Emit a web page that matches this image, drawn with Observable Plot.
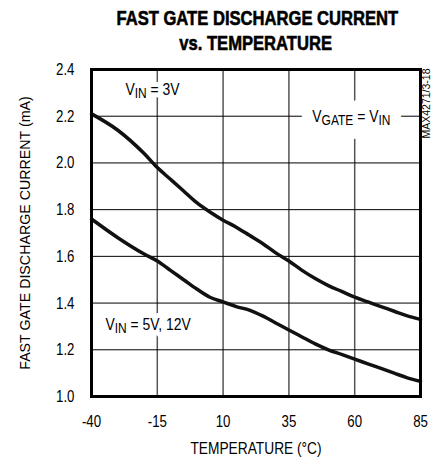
<!DOCTYPE html>
<html><head><meta charset="utf-8">
<script src="https://cdn.jsdelivr.net/npm/d3@7"></script>
<script src="https://cdn.jsdelivr.net/npm/@observablehq/plot@0.6"></script>
<style>
body{margin:0;background:#fff;}
#title{width:432px;box-sizing:border-box;padding-left:79px;height:55px;padding-top:5px;text-align:center;font-family:"Liberation Sans",Arial,sans-serif;font-weight:bold;font-size:21px;line-height:25px;color:#000;white-space:nowrap;}
#title span{display:inline-block;transform:scaleX(0.79);transform-origin:50% 50%;-webkit-text-stroke:0.6px #000;}
</style></head><body>
<div id="title"><span>FAST GATE DISCHARGE CURRENT</span><br><span>vs. TEMPERATURE</span></div>
<div id="chart"></div>
<script>
const temps    = [-40,-30,-20,-15,-10,-5,0,5,10,15,20,25,30,35,40,45,50,55,60,65,70,75,80,85];
const vin3V    = [2.21,2.14,2.04,1.98,1.93,1.88,1.83,1.79,1.755,1.725,1.69,1.655,1.615,1.58,1.54,1.505,1.475,1.45,1.425,1.405,1.385,1.365,1.345,1.33];
const vin5V12V = [1.76,1.68,1.61,1.58,1.54,1.50,1.46,1.425,1.405,1.385,1.37,1.345,1.315,1.285,1.255,1.225,1.20,1.18,1.16,1.14,1.12,1.10,1.08,1.065];
const xTicks = [-40,-15,10,35,60,85];
const yTicks = [1.0,1.2,1.4,1.6,1.8,2.0,2.2,2.4];
const labelTexts = ["V{IN} = 3V","V{IN} = 5V, 12V","V{GATE} = V{IN}"];
const labelX = [-27.1,-34.7,43.9];
const labelY = [2.316,1.309,2.2];
const xLabel = "TEMPERATURE (°C)";
const yLabel = "FAST GATE DISCHARGE CURRENT (mA)";
const note = "MAX4271/3-18";

const series = [
  ...temps.map((t,i)=>({t, v: vin3V[i], s:"3V"})),
  ...temps.map((t,i)=>({t, v: vin5V12V[i], s:"5V12V"}))
];
const labels = labelTexts.map((text,i)=>({text, x: labelX[i], y: labelY[i], i}));
const FONT = '"Liberation Sans",Arial,sans-serif';
const labelOpts = {x:"x", y:"y", text:"text", textAnchor:"start", fontSize: 17};

const plot = Plot.plot({
  width: 432, height: 403,
  marginLeft: 91, marginRight: 12, marginTop: 14, marginBottom: 62,
  style: {fontFamily: FONT, fontSize: "16px", color: "#000", background: "#fff"},
  x: {domain: [-40, 85]},
  y: {domain: [1.0, 2.4]},
  marks: [
    Plot.gridX(xTicks, {stroke: "#555", strokeOpacity: 1, strokeWidth: 1.5}),
    Plot.gridY(yTicks, {stroke: "#000", strokeOpacity: 1, strokeWidth: 1}),
    // white halos behind the annotations (break the grid lines like the reference)
    Plot.text(labels.filter(d=>d.i<2), {...labelOpts, fill:"#fff", stroke:"#fff", strokeWidth: 10}),
    Plot.text(labels.filter(d=>d.i===2), {...labelOpts, fill:"#fff", stroke:"#fff", strokeWidth: 28}),
    Plot.text(labels, {...labelOpts, fill:"#000"}),
    Plot.line(series, {x:"t", y:"v", z:"s", stroke:"#111", strokeWidth: 3.5, curve:"monotone-x"}),
    Plot.frame({stroke:"#000", strokeWidth: 3}),
    Plot.axisX({ticks: xTicks, tickSize: 0, tickPadding: 18, tickFormat: d => String(d), label: null, fontSize: 17}),
    Plot.axisY({ticks: yTicks, tickSize: 0, tickPadding: 17, tickFormat: ".1f", label: null, fontSize: 17}),
    Plot.text([xLabel], {frameAnchor:"bottom", textAnchor:"middle", lineAnchor:"middle", dy: 52, fontSize: 16}),
    Plot.text([yLabel], {frameAnchor:"left", textAnchor:"middle", lineAnchor:"middle", rotate: -90, dx: -66, fontSize: 15}),
    Plot.text([note], {frameAnchor:"top-right", rotate: -90, textAnchor:"end", lineAnchor:"middle", dx: 6, dy: -1, fontSize: 10.5})
  ]
});
document.getElementById("chart").appendChild(plot);

const svg = d3.select(plot.tagName.toLowerCase() === "svg" ? plot : plot.querySelector("svg"));

// subscripts in annotations
svg.selectAll("text").filter(function(){ return this.textContent.includes("{"); }).each(function(){
  const el = d3.select(this);
  const s = el.text();
  el.text(null);
  const parts = s.split(/(\{[^}]*\})/).filter(p=>p.length);
  let sub = false;
  parts.forEach(p=>{
    if (p.startsWith("{")) {
      el.append("tspan").attr("dy", 3).attr("font-size", "86%").text(p.slice(1,-1));
      sub = true;
    } else {
      const t = el.append("tspan").text(p);
      if (sub) t.attr("dy", -3);
      sub = false;
    }
  });
});

// condensed look (the reference uses a condensed face)
function condense(el, f){
  let tr = el.getAttribute("transform");
  if (!tr) {
    const x = el.getAttribute("x") || 0, y = el.getAttribute("y") || 0;
    el.removeAttribute("x"); el.removeAttribute("y");
    tr = `translate(${x},${y})`;
  }
  el.setAttribute("transform", tr + ` scale(${f},1)`);
}
svg.selectAll("text").each(function(){
  const s = this.textContent;
  let f;
  if (s === yLabel) f = 0.95;
  else if (s === xLabel) f = 0.86;
  else if (s === note) f = 1.0;
  else if (s.startsWith("V")) f = 0.82;
  else f = 0.78;
  if (f !== 1) condense(this, f);
});
</script>
</body></html>
